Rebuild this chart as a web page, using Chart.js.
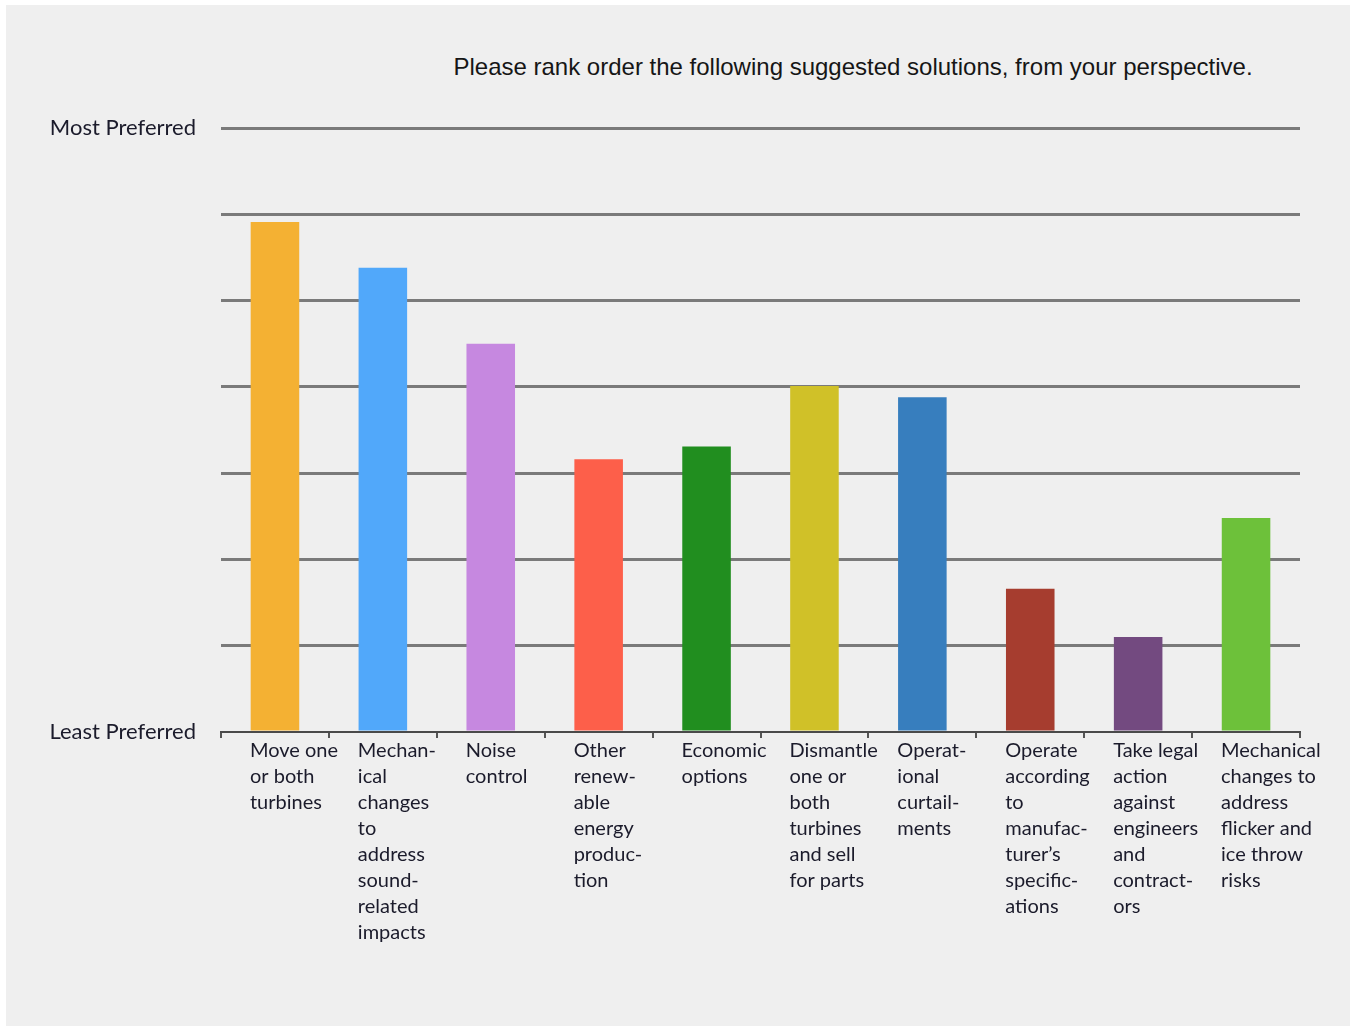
<!DOCTYPE html>
<html>
<head>
<meta charset="utf-8">
<script src="https://cdn.jsdelivr.net/npm/chart.js@4.4.1/dist/chart.umd.min.js"></script>
<style>
  html, body { margin: 0; padding: 0; background: #ffffff; }
  #wrap { position: relative; width: 1352px; height: 1027px; overflow: hidden; }
  #panel { position: absolute; left: 6px; top: 5px; width: 1344px; height: 1021px; background: #efefef; }
  #title { position: absolute; left: 353px; width: 1000px; top: 53px; text-align: center;
           font-family: "Liberation Sans", Arial, sans-serif; font-size: 24px; line-height: 28px; color: #161616; }
  canvas { position: absolute; left: 0; top: 0; }
</style>
</head>
<body>
<div id="wrap">
  <div id="panel"></div>
  <div id="title">Please rank order the following suggested solutions, from your perspective.</div>
  <canvas id="c" width="1352" height="1027"></canvas>
</div>
<script>
// ---- data ----
const categories = [
  ["Move one", "or both", "turbines"],
  ["Mechan-", "ical", "changes", "to", "address", "sound-", "related", "impacts"],
  ["Noise", "control"],
  ["Other", "renew-", "able", "energy", "produc-", "tion"],
  ["Economic", "options"],
  ["Dismantle", "one or", "both", "turbines", "and sell", "for parts"],
  ["Operat-", "ional", "curtail-", "ments"],
  ["Operate", "according", "to", "manufac-", "turer\u2019s", "specific-", "ations"],
  ["Take legal", "action", "against", "engineers", "and", "contract-", "ors"],
  ["Mechanical", "changes to", "address", "flicker and", "ice throw", "risks"]
];
const preferenceScores = [5.91, 5.38, 4.50, 3.16, 3.31, 4.01, 3.88, 1.66, 1.10, 2.48];
const yTickLabels = { 0: "Least Preferred", 7: "Most Preferred" };
const yMin = 0;
const yMax = 7;

// ---- styles ----
const barColors = ["#F4B133", "#51A8FA", "#C688E0", "#FD5F4A", "#218E1F",
                   "#D0C128", "#377EBE", "#A63D2F", "#734A80", "#6DC13A"];

new Chart(document.getElementById("c"), {
  type: "bar",
  data: {
    labels: categories,
    datasets: [{
      data: preferenceScores,
      backgroundColor: barColors,
      borderWidth: 0,
      barPercentage: 0.45,
      categoryPercentage: 1.0
    }]
  },
  options: {
    responsive: false,
    animation: false,
    devicePixelRatio: 1,
    layout: { padding: { left: 0, right: 52, top: 128, bottom: 0 } },
    plugins: { legend: { display: false }, tooltip: { enabled: false }, title: { display: false } },
    scales: {
      x: {
        type: "category",
        offset: true,
        border: { display: true, color: "#4a4a4a", width: 2 },
        grid: { display: true, offset: true, drawOnChartArea: false, drawTicks: true,
                tickLength: 6, color: "#555555", lineWidth: 2 },
        ticks: {
          autoSkip: false, maxRotation: 0, minRotation: 0,
          align: "start", padding: 0,
          labelOffset: -25,
          color: "#1b1b2b",
          font: { family: "Lato, 'Open Sans', sans-serif", size: 20, lineHeight: 1.3 }
        },
        afterFit: (s) => { s.height = 1027 - 732; }
      },
      y: {
        min: yMin, max: yMax,
        border: { display: false },
        grid: {
          drawTicks: false,
          color: (ctx) => (ctx.tick && ctx.tick.value === 0) ? "rgba(0,0,0,0)" : "#7a7a7a",
          lineWidth: 3
        },
        ticks: {
          stepSize: 1, padding: 25,
          color: "#1b1b2b",
          font: { family: "Lato, 'Open Sans', sans-serif", size: 22 },
          callback: (v) => yTickLabels[v] || ""
        },
        afterFit: (s) => { s.width = 221; }
      }
    }
  }
});
</script>
</body>
</html>
